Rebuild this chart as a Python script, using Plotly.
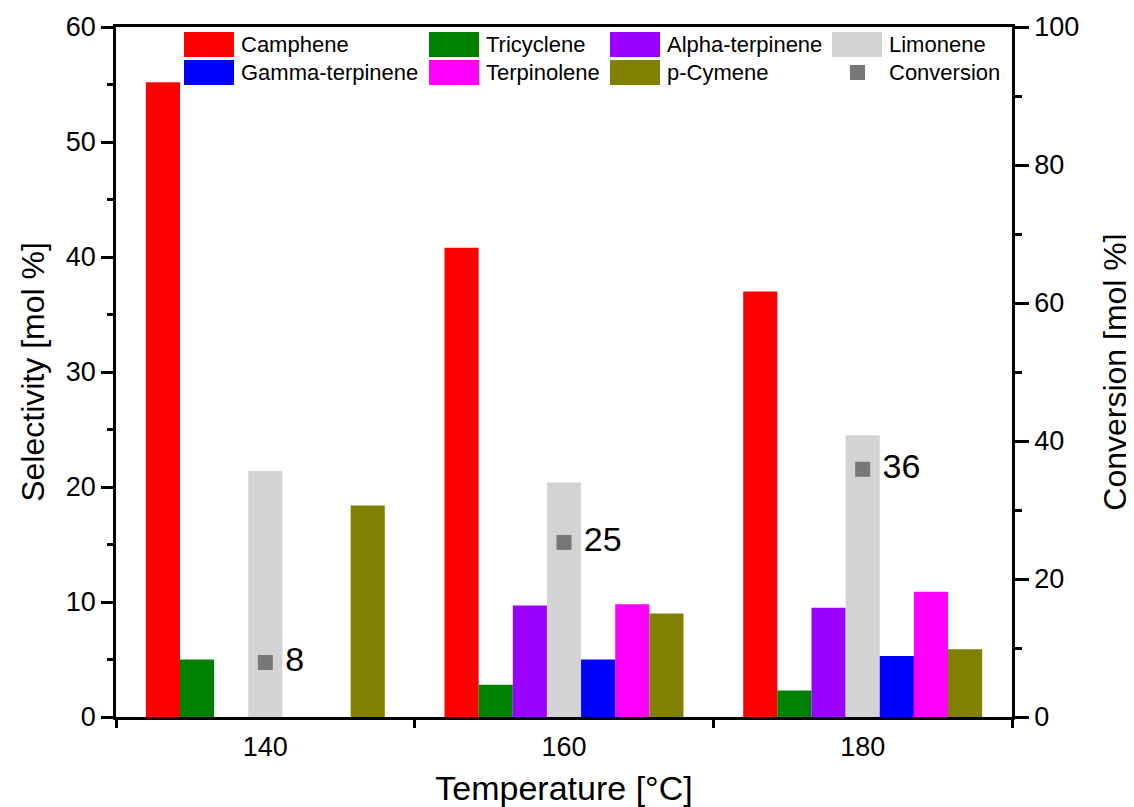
import plotly.graph_objects as go

temperatures = [140, 160, 180]
series_names = ["Camphene", "Tricyclene", "Alpha-terpinene", "Limonene",
                "Gamma-terpinene", "Terpinolene", "p-Cymene"]
camphene = [55.2, 40.8, 37.0]
tricyclene = [5.0, 2.8, 2.3]
alpha_terpinene = [0.0, 9.7, 9.5]
limonene = [21.4, 20.4, 24.5]
gamma_terpinene = [0.0, 5.0, 5.3]
terpinolene = [0.0, 9.8, 10.9]
p_cymene = [18.4, 9.0, 5.9]
conversion = [7.9, 25.3, 35.9]
conversion_labels = ["8", "25", "36"]
colors = ["#FF0000", "#008000", "#9900FF", "#D3D3D3", "#0000FF", "#FF00FF", "#808000"]
conv_color = "#777777"

values = [camphene, tricyclene, alpha_terpinene, limonene, gamma_terpinene, terpinolene, p_cymene]

FONT = "Liberation Sans, Arial, sans-serif"
fig = go.Figure()
for name, vals, col in zip(series_names, values, colors):
    fig.add_trace(go.Bar(x=temperatures, y=vals, name=name, marker=dict(color=col, line=dict(width=0)),
                         showlegend=False))

fig.add_trace(go.Scatter(x=temperatures, y=conversion, yaxis="y2", mode="markers+text",
                         text=[" " + t for t in conversion_labels], textposition="middle right",
                         textfont=dict(size=34, color="black", family=FONT),
                         marker=dict(symbol="square", size=15, color=conv_color),
                         name="Conversion", showlegend=False))

# page body offset of 8px is accounted for
OFF = 8
FIG_W, FIG_H = 1134 - OFF, 807 - OFF
L, R, T, B = 116 - OFF, 1012 - OFF, 27 - OFF, 717 - OFF
W, H = R - L, B - T
def px(X):
    return (X - OFF - L) / W
def py(Y):
    return (B - (Y - OFF)) / H

legend_cols = [184, 429, 610, 832]
row_centers = [44.5, 72.5]
shapes = []
annotations = []
for i in range(8):
    r, c = divmod(i, 4)
    x0 = legend_cols[c]
    yc = row_centers[r]
    if i < 7:
        label = series_names[i]
        shapes.append(dict(type="rect", xref="paper", yref="paper",
                           x0=px(x0), x1=px(x0 + 50), y0=py(yc + 12.5), y1=py(yc - 12.5),
                           fillcolor=colors[i], line=dict(width=0)))
    else:
        label = "Conversion"
        shapes.append(dict(type="rect", xref="paper", yref="paper",
                           x0=px(x0 + 18), x1=px(x0 + 33), y0=py(yc + 7.5), y1=py(yc - 7.5),
                           fillcolor=conv_color, line=dict(width=0)))
    annotations.append(dict(xref="paper", yref="paper", x=px(x0 + 55), y=py(yc),
                            xanchor="left", yanchor="middle", text=label, showarrow=False,
                            font=dict(size=22, color="black", family=FONT)))

axis_common = dict(showline=True, linecolor="black", linewidth=2.5, tickcolor="black",
                   tickwidth=2.5, showgrid=False, zeroline=False, automargin=False,
                   tickfont=dict(size=27, color="black", family=FONT))

fig.update_layout(
    width=FIG_W, height=FIG_H,
    margin=dict(l=L, r=FIG_W - R, t=T, b=FIG_H - B, autoexpand=False),
    paper_bgcolor="white", plot_bgcolor="white",
    barmode="group", bargap=0.2, bargroupgap=0,
    font=dict(family=FONT, color="black"),
    shapes=shapes, annotations=annotations,
    xaxis=dict(range=[130, 190], tickvals=temperatures, ticktext=[str(t) for t in temperatures],
               ticks="outside", ticklen=0, mirror=True, ticklabelstandoff=4,
               minor=dict(tickvals=[130, 150, 170, 190], ticks="outside", ticklen=8,
                          tickwidth=2.5, tickcolor="black"),
               title=dict(text="Temperature [°C]", font=dict(size=34, family=FONT), standoff=22),
               **axis_common),
    xaxis2=dict(range=[130, 190], overlaying="x", tickvals=[150, 170], ticks="inside", ticklen=6,
                showticklabels=False, showline=False, tickcolor="black", tickwidth=2.5,
                showgrid=False, zeroline=False),
    yaxis=dict(range=[0, 60], dtick=10, ticks="outside", ticklen=12, mirror=True,
               minor=dict(dtick=5, ticks="outside", ticklen=6, tickwidth=2.5, tickcolor="black"),
               title=dict(text="Selectivity [mol %]", font=dict(size=32, family=FONT), standoff=12),
               **axis_common),
    yaxis2=dict(range=[0, 100], dtick=20, overlaying="y", side="right", ticks="outside", ticklen=14,
                minor=dict(dtick=10, ticks="outside", ticklen=7, tickwidth=2.5, tickcolor="black"),
                title=dict(text="Conversion [mol %]", font=dict(size=32, family=FONT), standoff=26),
                **axis_common),
)

fig.write_html("out.html")
